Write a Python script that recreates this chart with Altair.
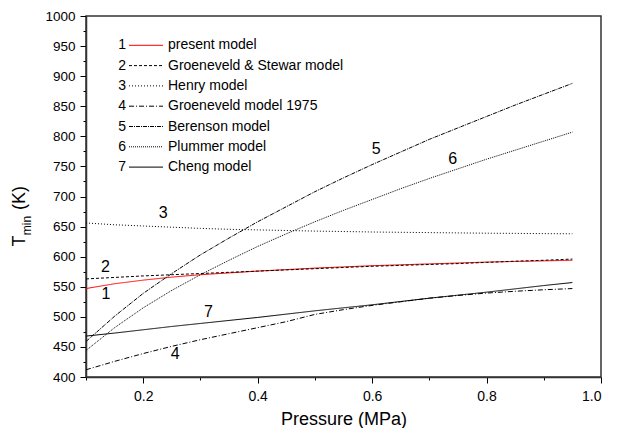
import altair as alt
import pandas as pd

models = ["present model", "Groeneveld & Stewar model", "Henry model",
          "Groeneveld model 1975", "Berenson model", "Plummer model", "Cheng model"]
numbers = ["1", "2", "3", "4", "5", "6", "7"]

pressure = [0.10, 0.15, 0.20, 0.25, 0.30, 0.35, 0.40, 0.45, 0.50,
            0.55, 0.60, 0.65, 0.70, 0.75, 0.80, 0.85, 0.90, 0.95]

t_present = [547, 555, 561, 566, 570, 573, 576, 578.5, 581,
             583, 585, 586.5, 588, 589.5, 591, 592, 593, 594]
t_groeneveld_stewart = [563, 565.5, 568, 570, 572, 574, 576, 578, 580,
                        582, 584, 585.5, 587, 588.5, 590.5, 592.5, 594, 596]
t_henry = [656, 653, 651, 649, 647, 645.5, 644.5, 643.5, 642.5,
           641.8, 641, 640.5, 640, 639.5, 639, 638.7, 638.3, 638]
t_groeneveld_1975 = [412, 426, 439, 451, 462, 472, 482, 492, 504,
                     512, 519, 525, 531, 535.5, 539.5, 542.5, 545, 547]
t_berenson = [459, 501, 539, 572, 603, 631, 658, 683, 708,
              731, 753, 774, 795, 814, 833, 852, 870, 888]
t_plummer = [444, 482, 515, 544, 570, 594, 617, 638, 658,
             677, 695, 713, 730, 746, 762, 777, 792, 807]
t_cheng = [468, 473, 478.5, 484, 489, 494, 499, 504.5, 510,
           515, 520, 525.5, 531, 536, 541, 546.5, 552, 557]

series = [t_present, t_groeneveld_stewart, t_henry, t_groeneveld_1975,
          t_berenson, t_plummer, t_cheng]

# curve annotation numbers (data coordinates)
label_p = [0.135, 0.134, 0.235, 0.256, 0.607, 0.741, 0.314]
label_t = [537.5, 582.8, 672, 437.8, 779.6, 763, 508]

x_ticks = [0.1, 0.2, 0.3, 0.4, 0.5, 0.6, 0.7, 0.8, 0.9, 1.0]
y_ticks = list(range(400, 1001, 25))

# styles
colors = ["#ff0000", "#000000", "#000000", "#000000", "#000000", "#000000", "#000000"]
dashes = [[1, 0], [3, 2], [1, 2], [5, 2, 1, 2], [4, 1, 1, 1], [1, 1], [1, 0]]
FONT = "Liberation Sans"

rows = []
for m, vals in zip(models, series):
    for p, t in zip(pressure, vals):
        rows.append({"model": m, "p": p, "T": t})
df = pd.DataFrame(rows)

W, H = 515, 361
x_scale = alt.Scale(domain=[0.1, 1.0], nice=False, zero=False)
y_scale = alt.Scale(domain=[400, 1000], nice=False, zero=False)
color_scale = alt.Scale(domain=models, range=colors)
dash_scale = alt.Scale(domain=models, range=dashes)

x_axis = alt.Axis(
    values=x_ticks, title="Pressure (MPa)",
    labelExpr="round(datum.value*10) % 2 == 0 ? format(datum.value, '.1f') : ''",
    tickSize={"condition": {"test": "round(datum.value*10) % 2 == 0", "value": 6}, "value": 3},
    labelOverlap=False, labelPadding=6, labelFontSize=14, titlePadding=7,
    titleFontSize=18, titleFont=FONT, titleFontWeight="normal", titleColor="#000",
)
y_axis = alt.Axis(
    values=y_ticks, title=None,
    labelExpr="datum.value % 50 == 0 ? format(datum.value, 'd') : ''",
    tickSize={"condition": {"test": "datum.value % 50 == 0", "value": 6}, "value": 3},
    labelOverlap=False, labelPadding=5, labelFontSize=13.5,
)

lines = alt.Chart(df).mark_line(strokeWidth=1).encode(
    x=alt.X("p:Q", scale=x_scale, axis=x_axis),
    y=alt.Y("T:Q", scale=y_scale, axis=y_axis),
    color=alt.Color("model:N", scale=color_scale, legend=None),
    strokeDash=alt.StrokeDash("model:N", scale=dash_scale, legend=None),
    order=alt.Order("p:Q"),
)

lab_df = pd.DataFrame({"p": label_p, "T": label_t, "n": numbers})
curve_labels = alt.Chart(lab_df).mark_text(
    font=FONT, fontSize=16, color="#000", align="center", baseline="middle"
).encode(
    x=alt.X("p:Q", scale=x_scale, axis=x_axis),
    y=alt.Y("T:Q", scale=y_scale, axis=y_axis),
    text="n:N",
)

layers = [lines, curve_labels]

# manual legend (layout in pixels of the plot area)
leg_y0, leg_dy = 29.3, 20.3
for i, (m, n) in enumerate(zip(models, numbers)):
    ly = leg_y0 + leg_dy * i
    one = pd.DataFrame({"model": [m], "n": [n]})
    layers.append(
        alt.Chart(one).mark_rule(strokeWidth=1, color=colors[i], strokeDash=dashes[i]).encode(
            x=alt.value(43), x2=alt.value(77), y=alt.value(ly)
        )
    )
    layers.append(
        alt.Chart(one).mark_text(font=FONT, fontSize=14, color="#000", align="right",
                                 baseline="middle").encode(
            x=alt.value(40), y=alt.value(ly), text="n:N"
        )
    )
    layers.append(
        alt.Chart(one).mark_text(font=FONT, fontSize=14, color="#000", align="left",
                                 baseline="middle").encode(
            x=alt.value(82), y=alt.value(ly), text="model:N"
        )
    )

# y axis title with subscript: T_min (K)
title_parts = [("T", 18, -66, 225), ("min", 12, -59.5, 209.5), ("(K)", 18, -66, 182)]
for txt, fs, tx, ty in title_parts:
    layers.append(
        alt.Chart(pd.DataFrame({"t": [txt]})).mark_text(
            font=FONT, fontSize=fs, color="#000", angle=270, align="center", baseline="middle"
        ).encode(x=alt.value(tx), y=alt.value(ty), text="t:N")
    )

chart = alt.layer(*layers).properties(
    width=W, height=H,
    autosize=alt.AutoSizeParams(type="none"),
    padding={"left": 78, "top": 8, "right": 11, "bottom": 51},
).configure_view(
    stroke="#333", strokeWidth=1.5
).configure_axis(
    domainColor="#333", domainWidth=1.5, tickColor="#000", tickWidth=1,
    labelFont=FONT, labelColor="#000", grid=False,
)

chart.save("out.html", embed_options={"renderer": "svg", "actions": False})
